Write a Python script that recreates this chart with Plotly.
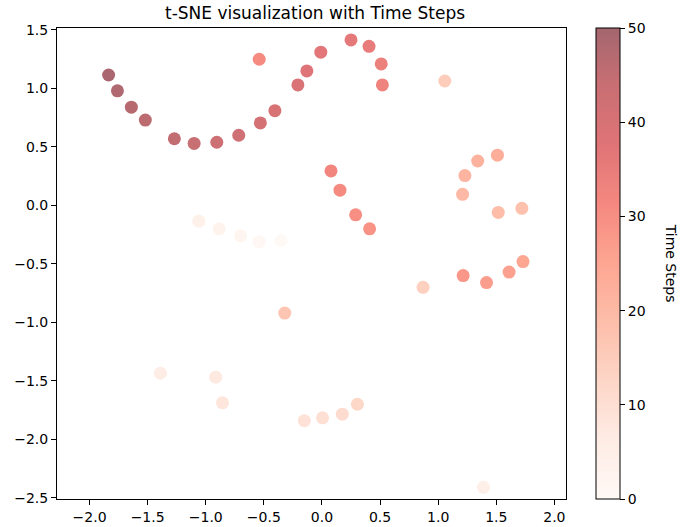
import plotly.graph_objects as go

# Data (t-SNE coordinates and time step of each point)
time_steps = [0, 1, 2, 3, 4,
              5, 6, 7, 8, 9, 10, 11, 12,
              14, 15, 17,
              18, 19, 20, 21, 22, 23,
              25, 26, 27, 28,
              29, 30, 31, 32,
              31,
              33, 34, 35, 36, 37, 38, 39, 40, 41, 42, 43, 44, 45, 46, 47, 48, 49]
x_vals = [-0.353, -0.54, -0.70, -0.885, -1.06,
          1.39, -1.39, -0.914, -0.856, -0.152, 0.005, 0.175, 0.305,
          0.87, 1.057, -0.32,
          1.72, 1.517, 1.21, 1.23, 1.34, 1.51,
          1.73, 1.61, 1.416, 1.215,
          0.41, 0.29, 0.155, 0.078,
          -0.54,
          0.52, 0.51, 0.405, 0.25, -0.01, -0.13, -0.207, -0.405, -0.53, -0.716, -0.905, -1.10, -1.27, -1.52, -1.64, -1.76, -1.836]
y_vals = [-0.30, -0.31, -0.26, -0.20, -0.135,
          -2.41, -1.434, -1.468, -1.688, -1.84, -1.816, -1.785, -1.70,
          -0.70, 1.064, -0.92,
          -0.025, -0.06, 0.095, 0.255, 0.38, 0.43,
          -0.48, -0.57, -0.66, -0.60,
          -0.20, -0.08, 0.13, 0.295,
          1.25,
          1.03, 1.21, 1.36, 1.415, 1.31, 1.15, 1.03, 0.81, 0.705, 0.60, 0.54, 0.53, 0.57, 0.73, 0.84, 0.98, 1.115]

x_ticks = [-2.0, -1.5, -1.0, -0.5, 0.0, 0.5, 1.0, 1.5, 2.0]
y_ticks = [-2.5, -2.0, -1.5, -1.0, -0.5, 0.0, 0.5, 1.0, 1.5]
cbar_ticks = [0, 10, 20, 30, 40, 50]

# matplotlib "Reds" blended with alpha 0.6 over white
reds = [(255, 245, 240), (254, 224, 210), (252, 187, 161), (252, 146, 114),
        (251, 106, 74), (239, 59, 44), (203, 24, 29), (165, 15, 21), (103, 0, 13)]
alpha = 0.6
colorscale = []
for i, c in enumerate(reds):
    b = [round(255 - alpha * (255 - v)) for v in c]
    colorscale.append([i / (len(reds) - 1), f"rgb({b[0]},{b[1]},{b[2]})"])

font = "DejaVu Sans"

fig = go.Figure()
fig.add_trace(go.Scatter(
    x=x_vals, y=y_vals, mode="markers",
    marker=dict(
        size=13, color=time_steps, colorscale=colorscale, cmin=0, cmax=50,
        line=dict(width=0),
        colorbar=dict(
            thickness=24, len=1.0, lenmode="fraction", y=0.5, yanchor="middle",
            x=1.059, xanchor="left", xpad=0, ypad=0,
            outlinecolor="black", outlinewidth=1,
            tickvals=cbar_ticks, ticks="outside", ticklen=5, tickcolor="black",
            tickfont=dict(family=font, size=14, color="black"),
        ),
    ),
    showlegend=False,
))

axis_common = dict(
    showline=True, linecolor="black", linewidth=1, mirror=True,
    ticks="outside", ticklen=5, tickcolor="black", showgrid=False, zeroline=False,
    tickfont=dict(family=font, size=14, color="black"), tickformat=".1f",
    automargin=False,
)
fig.update_xaxes(range=[-2.28, 2.10], tickvals=x_ticks, **axis_common)
fig.update_yaxes(range=[-2.51, 1.517], tickvals=y_ticks, **axis_common)

fig.update_layout(
    width=681, height=527,
    margin=dict(l=57, r=115, t=28, b=28, autoexpand=False),
    plot_bgcolor="white", paper_bgcolor="white",
    title=dict(text="t-SNE visualization with Time Steps", x=0.4626, xanchor="center",
               y=1 - 13 / 527, yanchor="middle",
               font=dict(family=font, size=17, color="black")),
    annotations=[dict(
        text="Time Steps", textangle=90, xref="paper", yref="paper",
        x=1.208, y=0.5, xanchor="center", yanchor="middle", showarrow=False,
        font=dict(family=font, size=14, color="black"),
    )],
)

fig.write_html("out.html")
